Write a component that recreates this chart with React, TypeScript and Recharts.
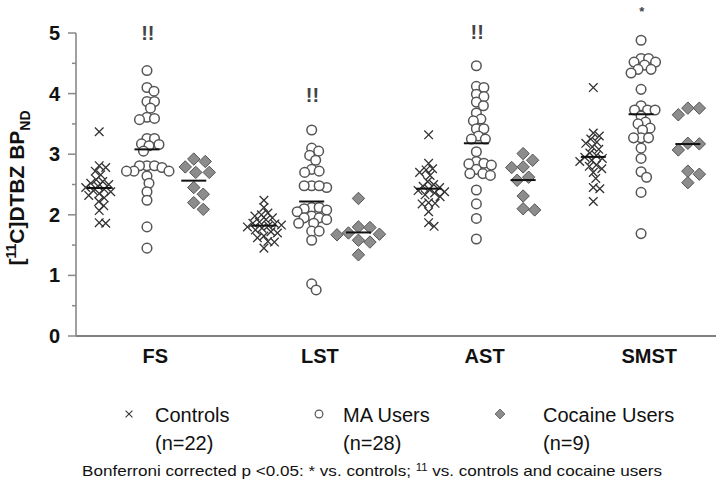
import React from 'react';
import { ScatterChart, Scatter, XAxis, YAxis, ReferenceDot, Legend } from 'recharts';

const FONT = '"Liberation Sans", Arial, Helvetica, sans-serif';

// ---------- data ----------
const categories = ['FS', 'LST', 'AST', 'SMST'];
const groupNames = ['Controls', 'MA Users', 'Cocaine Users'];
const groupCounts = ['(n=22)', '(n=28)', '(n=9)'];

const controlsFS = [3.37, 2.81, 2.78, 2.72, 2.66, 2.58, 2.55, 2.52, 2.50, 2.47, 2.45, 2.42, 2.40, 2.38, 2.35, 2.32, 2.28, 2.22, 2.15, 2.07, 1.87, 1.86];
const controlsLST = [2.24, 2.12, 2.03, 2.00, 1.98, 1.95, 1.92, 1.88, 1.86, 1.85, 1.83, 1.82, 1.80, 1.78, 1.75, 1.72, 1.70, 1.65, 1.62, 1.56, 1.55, 1.45];
const controlsAST = [3.32, 2.85, 2.76, 2.74, 2.70, 2.65, 2.55, 2.50, 2.47, 2.45, 2.42, 2.40, 2.38, 2.36, 2.33, 2.30, 2.20, 2.19, 2.18, 2.05, 1.87, 1.81];
const controlsSMST = [4.10, 3.35, 3.30, 3.25, 3.20, 3.18, 3.12, 3.08, 3.02, 2.98, 2.95, 2.93, 2.90, 2.88, 2.82, 2.80, 2.76, 2.70, 2.60, 2.45, 2.43, 2.22];

const maFS = [4.38, 4.10, 4.04, 3.87, 3.87, 3.76, 3.61, 3.59, 3.57, 3.26, 3.26, 3.17, 3.16, 3.14, 3.05, 2.81, 2.81, 2.81, 2.78, 2.72, 2.72, 2.72, 2.64, 2.52, 2.38, 2.24, 1.80, 1.45];
const maLST = [3.40, 3.10, 3.05, 2.98, 2.90, 2.75, 2.72, 2.70, 2.48, 2.45, 2.48, 2.48, 2.12, 2.12, 2.10, 2.08, 2.05, 1.98, 1.95, 1.92, 1.95, 1.86, 1.86, 1.73, 1.73, 1.58, 0.86, 0.76];
const maAST = [4.46, 4.12, 4.10, 3.99, 3.95, 3.86, 3.80, 3.68, 3.58, 3.55, 3.42, 3.42, 3.30, 3.25, 3.25, 3.04, 2.88, 2.85, 2.84, 2.82, 2.75, 2.68, 2.68, 2.65, 2.41, 2.18, 1.94, 1.60];
const maSMST = [4.88, 4.58, 4.58, 4.52, 4.52, 4.47, 4.40, 4.40, 4.34, 4.07, 3.80, 3.73, 3.73, 3.73, 3.63, 3.53, 3.50, 3.43, 3.40, 3.27, 3.27, 3.27, 3.10, 2.93, 2.71, 2.62, 2.37, 1.69];

const cocaineFS = [2.92, 2.88, 2.79, 2.70, 2.70, 2.45, 2.34, 2.20, 2.09];
const cocaineLST = [2.27, 1.80, 1.79, 1.70, 1.68, 1.67, 1.58, 1.55, 1.34];
const cocaineAST = [3.01, 2.90, 2.79, 2.78, 2.62, 2.57, 2.31, 2.10, 2.08];
const cocaineSMST = [3.76, 3.76, 3.65, 3.18, 3.17, 3.07, 2.72, 2.67, 2.53];

const annotationText = ['!!', '!!', '!!', '*'];
const annotationY = [5.0, 3.98, 5.02, 5.36];

const yTicks = [0, 0.5, 1, 1.5, 2, 2.5, 3, 3.5, 4, 4.5, 5];

// ---------- layout ----------
const W = 720;
const H = 488;
const MARGIN = { top: 33, right: 4, bottom: 122, left: 16 };
const Y_AXIS_W = 60;
const X_AXIS_H = 30;
const PLOT_W = W - MARGIN.left - Y_AXIS_W - MARGIN.right;
const PLOT_H = H - MARGIN.top - MARGIN.bottom - X_AXIS_H;
const X_DOMAIN: [number, number] = [-0.431, 3.455];
const PX_PER_X = PLOT_W / (X_DOMAIN[1] - X_DOMAIN[0]);
const PX_PER_Y = PLOT_H / 5;
const GROUP_OFFSET = [-0.29, 0, 0.284];
const LABEL_OFFSET = 0.05;
const SWARM_DIAM = [6.5, 7.5, 11.5];

const groups = [
  [controlsFS, controlsLST, controlsAST, controlsSMST],
  [maFS, maLST, maAST, maSMST],
  [cocaineFS, cocaineLST, cocaineAST, cocaineSMST],
];

// deterministic beeswarm: returns horizontal pixel offsets
function swarm(values: number[], diam: number): number[] {
  const order = values.map((_, i) => i).sort((a, b) => values[b] - values[a]);
  const placed: { x: number; y: number }[] = [];
  const offs = new Array(values.length).fill(0);
  for (const i of order) {
    const y = values[i] * PX_PER_Y;
    let best = 0;
    for (let k = 0; k < 400; k++) {
      const step = Math.ceil(k / 2) * 0.5;
      const cand = k === 0 ? 0 : k % 2 === 1 ? step : -step;
      if (placed.every((p) => (p.x - cand) ** 2 + (p.y - y) ** 2 >= diam * diam)) {
        best = cand;
        break;
      }
    }
    placed.push({ x: best, y });
    offs[i] = best;
  }
  return offs;
}

const mean = (a: number[]) => a.reduce((s, v) => s + v, 0) / a.length;

const seriesData = groups.map((cats, g) =>
  cats.flatMap((vals, c) => {
    const offs = swarm(vals, SWARM_DIAM[g]);
    return vals.map((v, i) => ({ x: c + GROUP_OFFSET[g] + offs[i] / PX_PER_X, y: v }));
  })
);

const meanData = groups.flatMap((cats, g) =>
  cats.map((vals, c) => ({ x: c + GROUP_OFFSET[g], y: mean(vals) }))
);

// ---------- shapes ----------
const CrossShape = (p: any) => {
  const { cx, cy } = p;
  const s = 4.3;
  return (
    <path
      d={`M${cx - s},${cy - s}L${cx + s},${cy + s}M${cx - s},${cy + s}L${cx + s},${cy - s}`}
      stroke="#333"
      strokeWidth={1.3}
      fill="none"
    />
  );
};
const CircleShape = (p: any) => (
  <circle cx={p.cx} cy={p.cy} r={4.8} fill="#fff" stroke="#555" strokeWidth={1.5} />
);
const DiamondShape = (p: any) => {
  const { cx, cy } = p;
  const s = 6.2;
  return (
    <path
      d={`M${cx},${cy - s}L${cx + s},${cy}L${cx},${cy + s}L${cx - s},${cy}Z`}
      fill="#8c8c8c"
      stroke="#555"
      strokeWidth={1}
    />
  );
};
const MeanShape = (p: any) => (
  <line x1={p.cx - 12.5} x2={p.cx + 12.5} y1={p.cy} y2={p.cy} stroke="#111" strokeWidth={2} />
);
const shapes = [CrossShape, CircleShape, DiamondShape];

const YTick = (p: any) => {
  const { x, y, payload } = p;
  const v = payload.value;
  const major = Math.abs(v - Math.round(v)) < 1e-6;
  return (
    <g>
      <line x1={x - (major ? 8 : 4)} x2={x} y1={y} y2={y} stroke="#888" strokeWidth={1.5} />
      {major && (
        <text x={x - 16} y={y + 7} textAnchor="end" fontSize={20} fontWeight="bold" fontFamily={FONT} fill="#111">
          {v}
        </text>
      )}
    </g>
  );
};

const XTick = (p: any) => {
  const { x, y, payload } = p;
  const name = categories[Math.round(payload.value - LABEL_OFFSET)];
  return (
    <text x={x} y={y + 27} textAnchor="middle" fontSize={20} fontWeight="bold" fontFamily={FONT} fill="#111">
      {name}
    </text>
  );
};

const legendMarkerX = [129, 319, 500];
const legendTextX = [155, 343, 543];

const LegendContent = () => (
  <svg width={W} height={H} style={{ position: 'absolute', left: 0, top: 0 }}>
    {groupNames.map((name, g) => {
      const M = shapes[g];
      return (
        <g key={name}>
          <g transform={`translate(${legendMarkerX[g]},414) scale(0.8) translate(${-legendMarkerX[g]},-414)`}>
            <M cx={legendMarkerX[g]} cy={414} />
          </g>
          <text x={legendTextX[g]} y={422} fontSize={20} fontFamily={FONT} fill="#111">
            {name}
          </text>
          <text x={legendTextX[g]} y={450} fontSize={20} fontFamily={FONT} fill="#111">
            {groupCounts[g]}
          </text>
        </g>
      );
    })}
    <text
      x={82}
      y={476}
      fontSize={15}
      fontFamily={FONT}
      fill="#111"
      textLength={580}
      lengthAdjust="spacingAndGlyphs"
    >
      Bonferroni corrected p {'<'}0.05: * vs. controls;{' '}
      <tspan fontSize={10} dy={-5}>
        11
      </tspan>
      <tspan dy={5}> vs. controls and cocaine users</tspan>
    </text>
  </svg>
);

const YTitle = () => (
  <text
    x={24}
    y={188}
    transform="rotate(-90 24 188)"
    textAnchor="middle"
    fontFamily={FONT}
    fontWeight="bold"
    fontSize={21}
    fill="#111"
  >
    [<tspan fontSize={14} dy={-8}>11</tspan>
    <tspan dy={8}>C]DTBZ BP</tspan>
    <tspan fontSize={14} dy={6}>ND</tspan>
  </text>
);

export default function App() {
  return (
    <div style={{ position: 'absolute', left: 0, top: 0, width: W, height: H, background: '#fff' }}>
      <ScatterChart width={W} height={H} margin={MARGIN}>
        <XAxis
          type="number"
          dataKey="x"
          domain={X_DOMAIN}
          allowDataOverflow
          ticks={categories.map((_, i) => i + LABEL_OFFSET)}
          tick={XTick}
          tickLine={false}
          tickSize={0}
          tickMargin={0}
          height={X_AXIS_H}
          axisLine={{ stroke: '#808080', strokeWidth: 2 }}
        />
        <YAxis
          type="number"
          dataKey="y"
          domain={[0, 5]}
          allowDataOverflow
          ticks={yTicks}
          interval={0}
          tick={YTick}
          tickLine={false}
          tickSize={0}
          tickMargin={0}
          width={Y_AXIS_W}
          axisLine={{ stroke: '#808080', strokeWidth: 1.5 }}
        />
        {seriesData.map((d, g) => (
          <Scatter key={g} name={groupNames[g]} data={d} shape={shapes[g]} isAnimationActive={false} />
        ))}
        <Scatter name="mean" data={meanData} shape={MeanShape} isAnimationActive={false} legendType="none" />
        {categories.map((c, i) => (
          <ReferenceDot
            key={c}
            x={i + 0.005}
            y={annotationY[i]}
            r={0}
            ifOverflow="visible"
            label={{
              value: annotationText[i],
              position: 'center',
              fontSize: annotationText[i] === '*' ? 13 : 20,
              fontWeight: 'bold',
              fill: '#444',
              fontFamily: FONT,
            }}
          />
        ))}
        <Legend
          layout="horizontal"
          verticalAlign="middle"
          align="center"
          content={LegendContent}
          wrapperStyle={{ left: 0, top: 0, width: W, height: H, pointerEvents: 'none' }}
        />
      </ScatterChart>
      <svg width={W} height={H} style={{ position: 'absolute', left: 0, top: 0, pointerEvents: 'none' }}>
        <YTitle />
      </svg>
    </div>
  );
}
